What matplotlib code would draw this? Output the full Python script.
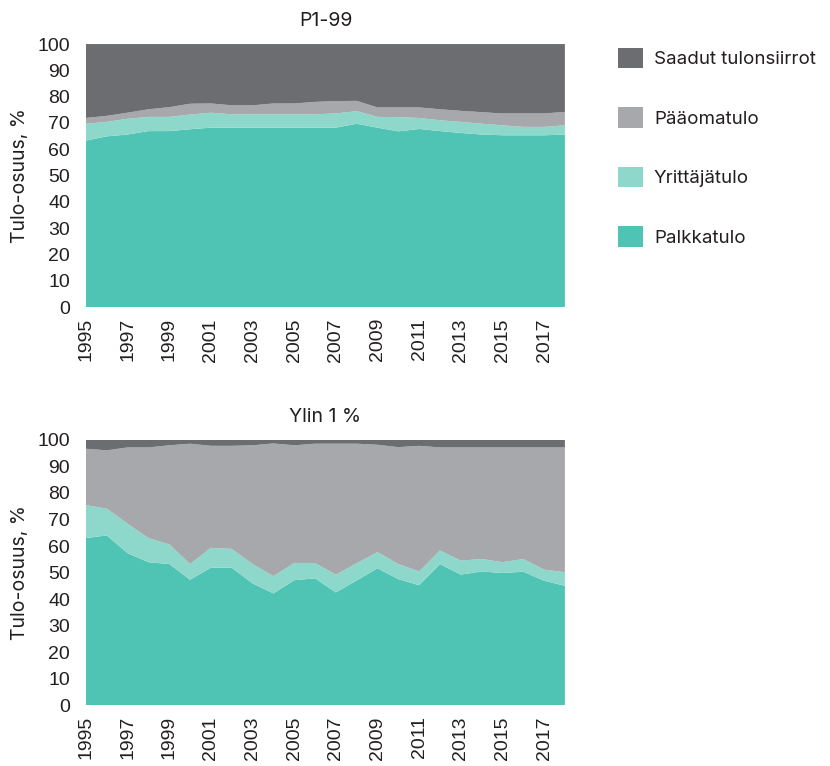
#!/usr/bin/env python3
"""
Tulo-osuudet: P1-99 vs. ylin 1 % (stacked area charts).
"""

import numpy as np
import matplotlib
matplotlib.use("Agg")
import matplotlib.pyplot as plt
from matplotlib.patches import Patch

plt.rcParams['font.family'] = ['Inter', 'DejaVu Sans']

years = list(range(1995, 2019))
tick_years = list(range(1995, 2018, 2))

series_names = ['Palkkatulo', 'Yrittäjätulo', 'Pääomatulo', 'Saadut tulonsiirrot']
colors = ['#50c4b4', '#8dd8ca', '#a7a8ac', '#6c6d71']

# P1-99
p199_palkka = [63.3, 64.9, 65.6, 66.9, 66.9, 67.6, 68.2, 68.2, 68.2, 68.2, 68.2, 68.2,
               68.2, 69.7, 68.2, 66.8, 67.7, 66.9, 66.2, 65.6, 65.3, 65.3, 65.3, 65.6]
p199_yrittaja = [6.4, 5.5, 6.0, 5.4, 5.4, 5.6, 5.7, 5.1, 5.1, 5.1, 5.1, 5.1,
                 5.4, 4.8, 4.1, 5.4, 4.2, 4.1, 4.2, 4.1, 3.8, 3.2, 3.2, 3.5]
p199_paaoma = [2.2, 2.3, 2.3, 2.9, 3.7, 4.1, 3.5, 3.4, 3.4, 4.1, 4.1, 4.7,
               4.7, 3.9, 3.6, 3.7, 4.0, 4.2, 4.2, 4.4, 4.5, 5.1, 5.1, 5.1]
p199_siirrot = [28.1, 27.3, 26.1, 24.8, 24.0, 22.7, 22.6, 23.3, 23.3, 22.6, 22.6, 22.0,
                21.7, 21.6, 24.1, 24.1, 24.1, 24.8, 25.4, 25.9, 26.4, 26.4, 26.4, 25.8]

# Ylin 1 %
top1_palkka = [63.0, 64.0, 57.3, 53.9, 53.2, 47.3, 51.8, 51.8, 45.9, 42.1, 47.1, 47.8,
               42.5, 47.0, 51.6, 47.5, 45.2, 53.2, 49.2, 50.4, 49.8, 50.3, 46.9, 45.0]
top1_yrittaja = [12.4, 10.1, 11.1, 9.1, 7.4, 5.9, 7.5, 7.1, 7.3, 6.5, 6.5, 5.8,
                 6.7, 6.5, 6.1, 5.7, 5.2, 5.1, 5.3, 4.7, 4.1, 4.8, 4.2, 5.1]
top1_paaoma = [21.3, 22.0, 28.8, 34.2, 37.4, 45.4, 38.5, 38.9, 44.8, 50.1, 44.4, 45.0,
               49.4, 45.1, 40.5, 44.1, 47.4, 38.9, 42.7, 42.1, 43.3, 42.1, 46.1, 47.1]
top1_siirrot = [3.3, 3.9, 2.8, 2.8, 2.0, 1.4, 2.2, 2.2, 2.0, 1.3, 2.0, 1.4,
                1.4, 1.4, 1.8, 2.7, 2.2, 2.8, 2.8, 2.8, 2.8, 2.8, 2.8, 2.8]

TEXT = '#231f20'


def draw_panel(ax, stacks, title):
    """One stacked area panel."""
    ax.stackplot(years, *stacks, colors=colors, linewidth=0)
    ax.set_xlim(years[0], years[-1])
    ax.set_ylim(0, 100)
    ax.set_yticks(np.arange(0, 101, 10))
    ax.set_xticks(tick_years)
    ax.set_xticklabels([str(y) for y in tick_years], rotation=90)
    ax.tick_params(length=0, labelsize=14, colors=TEXT,
                   labelfontfamily='Liberation Sans')
    ax.tick_params(axis='y', pad=11.5)
    ax.tick_params(axis='x', pad=8)
    for s in ax.spines.values():
        s.set_visible(False)
    ax.set_ylabel('Tulo-osuus, %', fontsize=14, color=TEXT, labelpad=6)
    ax.set_title(title, fontsize=14, color=TEXT, pad=13)


def main():
    fig = plt.figure(figsize=(8.3, 7.66), dpi=100)
    ax1 = fig.add_axes([0.1036, 0.5992, 0.577, 0.3433])
    ax2 = fig.add_axes([0.1036, 0.0796, 0.577, 0.3460])

    draw_panel(ax1, [p199_palkka, p199_yrittaja, p199_paaoma, p199_siirrot], 'P1-99')
    draw_panel(ax2, [top1_palkka, top1_yrittaja, top1_paaoma, top1_siirrot], 'Ylin 1 %')

    # legend, top entry first
    handles = [Patch(facecolor=c, edgecolor='none') for c in colors[::-1]]
    fig.legend(handles, series_names[::-1], loc='upper left',
               bbox_to_anchor=(0.733, 0.950), frameon=False, fontsize=13.5,
               handlelength=1.33, handleheight=1.3, handletextpad=0.6,
               labelspacing=2.08, labelcolor=TEXT, borderpad=0)

    fig.savefig('out.png', dpi=100)


if __name__ == "__main__":
    main()
